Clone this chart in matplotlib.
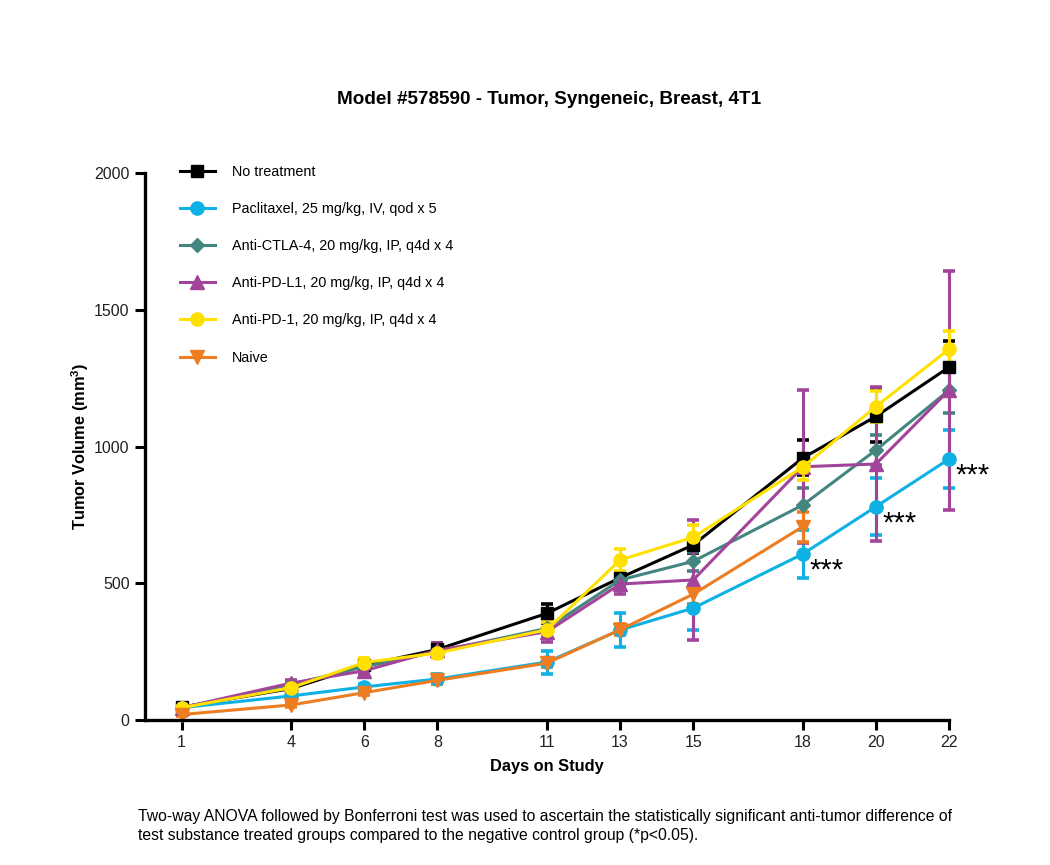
import numpy as np
import matplotlib
matplotlib.use('Agg')
import matplotlib.pyplot as plt
from matplotlib.lines import Line2D

plt.rcParams['font.family'] = ['Liberation Sans', 'DejaVu Sans']
plt.rcParams['mathtext.fontset'] = 'custom'
plt.rcParams['mathtext.rm'] = 'Liberation Sans'
plt.rcParams['mathtext.bf'] = 'Liberation Sans:bold'

# study days
days = [1, 4, 6, 8, 11, 13, 15, 18, 20, 22]
naive_days = [1, 4, 6, 8, 11, 13, 15, 18]

# group means and error (mm^3)
no_treat = [47, 115, 200, 258, 390, 520, 640, 958, 1110, 1290]
no_treat_err = [8, 12, 15, 22, 35, 20, 30, 64, 95, 95]
pacli = [45, 88, 121, 150, 212, 329, 409, 607, 780, 954]
pacli_err = [8, 10, 12, 18, 42, 63, 80, 88, 105, 106]
ctla4 = [45, 130, 195, 250, 335, 512, 580, 786, 987, 1206]
ctla4_err = [8, 12, 15, 20, 30, 25, 36, 62, 55, 82]
pdl1 = [45, 135, 180, 255, 323, 497, 512, 926, 936, 1206]
pdl1_err = [8, 12, 15, 25, 37, 36, 220, 280, 280, 437]
pd1 = [45, 118, 210, 245, 330, 585, 668, 925, 1146, 1356]
pd1_err = [8, 10, 15, 20, 30, 42, 45, 47, 57, 65]
naive = [20, 55, 100, 145, 208, 330, 460, 707]
naive_err = [5, 8, 10, 12, 15, 20, 35, 55]

labels = ['No treatment', 'Paclitaxel, 25 mg/kg, IV, qod x 5',
          'Anti-CTLA-4, 20 mg/kg, IP, q4d x 4', 'Anti-PD-L1, 20 mg/kg, IP, q4d x 4',
          'Anti-PD-1, 20 mg/kg, IP, q4d x 4', 'Naive']
colors = ['#000000', '#0EB1E3', '#438680', '#A3449B', '#FFE000', '#EE7D21']
markers = ['s', 'o', 'D', '^', 'o', 'v']
msizes = [9, 9.5, 7.5, 10, 9.5, 10]

series = [(days, no_treat, no_treat_err), (days, pacli, pacli_err),
          (days, ctla4, ctla4_err), (days, pdl1, pdl1_err),
          (days, pd1, pd1_err), (naive_days, naive, naive_err)]

# significance marks (day, value of paclitaxel point)
sig_days = [18, 20, 22]
sig_vals = [607, 780, 954]

fig = plt.figure(figsize=(10.5, 8.65), dpi=100)
ax = fig.add_axes([145 / 1050, 145 / 865, 804 / 1050, 547 / 865])

handles = []
for (x, y, e), lab, c, m, ms in zip(series, labels, colors, markers, msizes):
    ax.errorbar(x, y, yerr=e, color=c, lw=2.2, marker=m, ms=ms, mec=c,
                elinewidth=2.2, capsize=4.5, capthick=2.6, clip_on=False)
    handles.append(Line2D([], [], color=c, lw=2.2, marker=m, ms=ms, mec=c))

for d, v in zip(sig_days, sig_vals):
    ax.annotate('***', (d, v), xytext=(5, -2), textcoords='offset points',
                fontsize=21, ha='left', va='top')

ax.set_xlim(0, 22)
ax.set_ylim(0, 2000)
ax.set_xticks(days)
ax.set_yticks([0, 500, 1000, 1500, 2000])
ax.tick_params(width=2.2, length=7, labelsize=11.5, pad=4, labelcolor='#222222')
for s in ['top', 'right']:
    ax.spines[s].set_visible(False)
for s in ['left', 'bottom']:
    ax.spines[s].set_linewidth(2.4)

ax.set_xlabel('Days on Study', fontsize=11.8, fontweight='bold', labelpad=6)
ax.set_ylabel(r'Tumor Volume (mm$^\mathbf{3}$)', fontsize=11.8, fontweight='bold', labelpad=2)

fig.text(549 / 1050, 1 - 100 / 865, 'Model #578590 - Tumor, Syngeneic, Breast, 4T1',
         ha='center', va='center', fontsize=13.6, fontweight='bold')

fig.legend(handles, labels, loc='upper left', bbox_to_anchor=(180 / 1050, 1 - 165 / 865),
           frameon=False, fontsize=10.4, handlelength=2.4, handletextpad=1.2,
           labelspacing=1.6, borderpad=0, borderaxespad=0)

fig.text(138 / 1050, 1 - 826 / 865,
         'Two-way ANOVA followed by Bonferroni test was used to ascertain the statistically significant anti-tumor difference of\n'
         'test substance treated groups compared to the negative control group (*p<0.05).',
         ha='left', va='center', fontsize=11.3, linespacing=1.3)

fig.savefig('out.png', dpi=100)
